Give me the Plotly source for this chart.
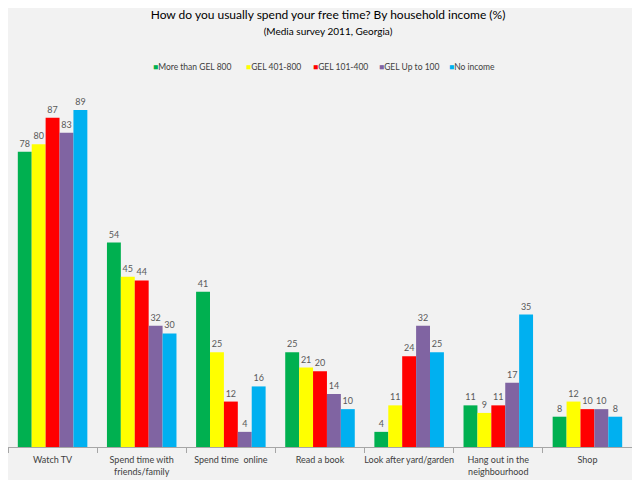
import plotly.graph_objects as go

categories = ["Watch TV", "Spend time with<br>friends/family", "Spend time  online", "Read a book",
              "Look after yard/garden", "Hang out in the<br>neighbourhood", "Shop"]
series_names = ["More than GEL 800", "GEL 401-800", "GEL 101-400", "GEL Up to 100", "No income"]
more_than_800 = [78, 54, 41, 25, 4, 11, 8]
gel_401_800 = [80, 45, 25, 21, 11, 9, 12]
gel_101_400 = [87, 44, 12, 20, 24, 11, 10]
gel_up_to_100 = [83, 32, 4, 14, 32, 17, 10]
no_income = [89, 30, 16, 10, 25, 35, 8]
colors = ["#00B050", "#FFFF00", "#FF0000", "#8064A2", "#00B0F0"]
legend_x = [0.229, 0.379, 0.485, 0.591, 0.703]

values = [more_than_800, gel_401_800, gel_101_400, gel_up_to_100, no_income]

fig = go.Figure()
for name, vals, col in zip(series_names, values, colors):
    fig.add_trace(go.Bar(
        x=categories, y=vals, name=name, marker=dict(color=col, line=dict(width=0)),
        text=[str(v) for v in vals], textposition="outside",
        textfont=dict(size=9, color="#595959"), cliponaxis=False,
    ))

# legend drawn as text annotations (compact, like the original)
for name, col, lx in zip(series_names, colors, legend_x):
    fig.add_annotation(
        x=lx, y=1.064, xref="paper", yref="paper", xanchor="left", yanchor="middle",
        text=f"<span style='color:{col}'>■</span>{name}", showarrow=False,
        font=dict(size=8.5, color="#404040"),
    )

fig.update_layout(
    width=640, height=480,
    paper_bgcolor="#F2F2F2", plot_bgcolor="#F2F2F2",
    font=dict(family="Lato", color="#404040"),
    barmode="group", bargap=0.22, bargroupgap=0,
    margin=dict(l=0, r=16, t=82, b=41),
    title=dict(text="How do you usually spend your free time? By household income (%)<br>"
                    "<span style='font-size:10px'>(Media survey 2011, Georgia)</span>",
               x=0.5, xanchor="center", y=0.977, yanchor="top",
               font=dict(size=12, color="#000000")),
    showlegend=False,
)
fig.update_xaxes(showline=True, linecolor="#A6A6A6", linewidth=1, ticks="outside",
                 tickson="boundaries", ticklen=5, tickcolor="#A6A6A6", tickangle=0,
                 automargin=False, ticklabelstandoff=4,
                 tickfont=dict(size=9, color="#404040"), showgrid=False)
fig.update_yaxes(visible=False, range=[0, 94.3], showgrid=False)

fig.write_html("out.html")
